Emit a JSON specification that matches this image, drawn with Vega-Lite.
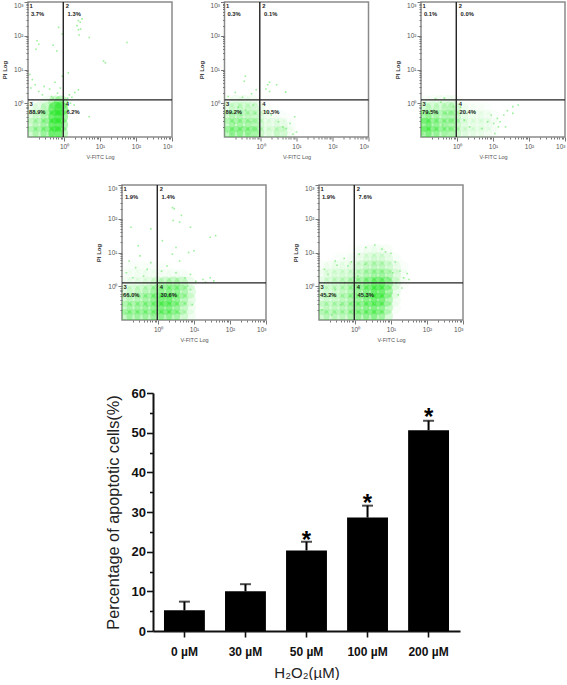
{"$schema":"https://vega.github.io/schema/vega-lite/v6.json","background":"white","padding":{"left":0,"top":0,"right":0,"bottom":0},"bounds":"full","spacing":10,"config":{"font":"Liberation Sans","view":{"stroke":"#8a8a8a","strokeWidth":1.5}},
"datasets":{
"labels":[
{"p":1,"x":-0.96,"y":2.87,"t":"1"},{"p":1,"x":0.05,"y":2.87,"t":"2"},{"p":1,"x":-0.96,"y":-0.02,"t":"3"},{"p":1,"x":0.05,"y":-0.02,"t":"4"},{"p":1,"x":-0.92,"y":2.64,"t":"3.7%"},{"p":1,"x":0.1,"y":2.64,"t":"1.3%"},{"p":1,"x":-0.97,"y":-0.26,"t":"88.9%"},{"p":1,"x":0.07,"y":-0.26,"t":"6.2%"},
{"p":2,"x":-0.96,"y":2.87,"t":"1"},{"p":2,"x":0.05,"y":2.87,"t":"2"},{"p":2,"x":-0.96,"y":-0.02,"t":"3"},{"p":2,"x":0.05,"y":-0.02,"t":"4"},{"p":2,"x":-0.92,"y":2.64,"t":"0.3%"},{"p":2,"x":0.1,"y":2.64,"t":"0.1%"},{"p":2,"x":-0.97,"y":-0.26,"t":"89.2%"},{"p":2,"x":0.07,"y":-0.26,"t":"10.5%"},
{"p":3,"x":-0.96,"y":2.87,"t":"1"},{"p":3,"x":0.05,"y":2.87,"t":"2"},{"p":3,"x":-0.96,"y":-0.02,"t":"3"},{"p":3,"x":0.05,"y":-0.02,"t":"4"},{"p":3,"x":-0.92,"y":2.64,"t":"0.1%"},{"p":3,"x":0.1,"y":2.64,"t":"0.0%"},{"p":3,"x":-0.97,"y":-0.26,"t":"79.5%"},{"p":3,"x":0.07,"y":-0.26,"t":"20.4%"},
{"p":4,"x":-0.96,"y":2.87,"t":"1"},{"p":4,"x":0.05,"y":2.87,"t":"2"},{"p":4,"x":-0.96,"y":-0.02,"t":"3"},{"p":4,"x":0.05,"y":-0.02,"t":"4"},{"p":4,"x":-0.92,"y":2.64,"t":"1.9%"},{"p":4,"x":0.1,"y":2.64,"t":"1.4%"},{"p":4,"x":-0.97,"y":-0.26,"t":"66.0%"},{"p":4,"x":0.07,"y":-0.26,"t":"30.6%"},
{"p":5,"x":-0.96,"y":2.87,"t":"1"},{"p":5,"x":0.05,"y":2.87,"t":"2"},{"p":5,"x":-0.96,"y":-0.02,"t":"3"},{"p":5,"x":0.05,"y":-0.02,"t":"4"},{"p":5,"x":-0.92,"y":2.64,"t":"1.9%"},{"p":5,"x":0.1,"y":2.64,"t":"7.6%"},{"p":5,"x":-0.97,"y":-0.26,"t":"45.2%"},{"p":5,"x":0.07,"y":-0.26,"t":"45.3%"}],
"gates":[{"gx":-0.02,"gy":0.1}],
"c1":[{"x":-0.9,"y":-0.88,"d":0.35},{"x":-0.68,"y":-0.88,"d":0.4},{"x":-0.46,"y":-0.88,"d":0.55},{"x":-0.24,"y":-0.88,"d":0.9},{"x":-0.08,"y":-0.88,"d":0.5},
{"x":-0.9,"y":-0.64,"d":0.3},{"x":-0.68,"y":-0.64,"d":0.35},{"x":-0.46,"y":-0.64,"d":0.5},{"x":-0.24,"y":-0.64,"d":0.95},{"x":-0.08,"y":-0.64,"d":0.6},
{"x":-0.9,"y":-0.4,"d":0.2},{"x":-0.68,"y":-0.4,"d":0.25},{"x":-0.46,"y":-0.4,"d":0.45},{"x":-0.24,"y":-0.4,"d":0.95},{"x":-0.08,"y":-0.4,"d":0.75},
{"x":-0.9,"y":-0.16,"d":0.1},{"x":-0.68,"y":-0.16,"d":0.2},{"x":-0.46,"y":-0.16,"d":0.35},{"x":-0.24,"y":-0.16,"d":0.9},{"x":-0.08,"y":-0.16,"d":0.85},
{"x":-0.46,"y":0.02,"d":0.1},{"x":-0.24,"y":0.02,"d":0.4},{"x":-0.08,"y":0.02,"d":0.5}],
"s1":[{"x":-0.95,"y":0.85},{"x":-0.88,"y":0.7},{"x":-0.8,"y":0.55},{"x":-0.92,"y":0.45},{"x":-0.7,"y":0.35},{"x":-0.55,"y":0.5},{"x":-0.6,"y":0.25},{"x":-0.4,"y":0.42},{"x":-0.35,"y":0.2},{"x":-0.25,"y":0.62},{"x":-0.18,"y":0.3},{"x":-0.1,"y":0.45},{"x":-0.3,"y":0.15},{"x":-0.05,"y":0.8},{"x":-0.75,"y":1.85},{"x":-0.7,"y":1.75},{"x":-0.78,"y":1.6},{"x":-0.3,"y":1.72},{"x":-0.2,"y":1.55},{"x":-0.15,"y":2.25},{"x":-0.05,"y":2.05},{"x":0.1,"y":0.15},{"x":0.15,"y":0.25},{"x":0.22,"y":0.18},{"x":0.3,"y":0.32},{"x":0.4,"y":0.4},{"x":0.1,"y":0.05},{"x":0.18,"y":0.0},{"x":0.28,"y":-0.05},{"x":0.12,"y":-0.2},{"x":0.7,"y":-0.4},{"x":0.12,"y":0.9},{"x":0.4,"y":2.45},{"x":0.36,"y":2.3},{"x":0.4,"y":2.18},{"x":0.45,"y":2.4},{"x":0.5,"y":2.5},{"x":0.42,"y":2.02},{"x":0.46,"y":2.2},{"x":0.7,"y":1.95},{"x":1.1,"y":1.25},{"x":1.15,"y":1.2},{"x":1.75,"y":1.8}],
"c2":[{"x":-0.9,"y":-0.88,"d":0.5},{"x":-0.68,"y":-0.88,"d":0.55},{"x":-0.46,"y":-0.88,"d":0.5},{"x":-0.24,"y":-0.88,"d":0.5},{"x":-0.08,"y":-0.88,"d":0.3},{"x":0.12,"y":-0.88,"d":0.12},{"x":0.34,"y":-0.88,"d":0.18},{"x":0.56,"y":-0.88,"d":0.3},{"x":0.78,"y":-0.88,"d":0.08},
{"x":-0.9,"y":-0.64,"d":0.4},{"x":-0.68,"y":-0.64,"d":0.4},{"x":-0.46,"y":-0.64,"d":0.4},{"x":-0.24,"y":-0.64,"d":0.35},{"x":-0.08,"y":-0.64,"d":0.25},{"x":0.12,"y":-0.64,"d":0.1},{"x":0.34,"y":-0.64,"d":0.12},{"x":0.56,"y":-0.64,"d":0.15},{"x":0.78,"y":-0.64,"d":0.06},
{"x":-0.9,"y":-0.4,"d":0.3},{"x":-0.68,"y":-0.4,"d":0.35},{"x":-0.46,"y":-0.4,"d":0.3},{"x":-0.24,"y":-0.4,"d":0.25},{"x":-0.08,"y":-0.4,"d":0.18},{"x":0.12,"y":-0.4,"d":0.08},{"x":0.34,"y":-0.4,"d":0.06},{"x":0.56,"y":-0.4,"d":0.04},
{"x":-0.9,"y":-0.16,"d":0.18},{"x":-0.68,"y":-0.16,"d":0.25},{"x":-0.46,"y":-0.16,"d":0.25},{"x":-0.24,"y":-0.16,"d":0.2},{"x":-0.08,"y":-0.16,"d":0.12},{"x":0.12,"y":-0.16,"d":0.05},
{"x":-0.9,"y":0.04,"d":0.05},{"x":-0.68,"y":0.04,"d":0.1},{"x":-0.46,"y":0.04,"d":0.1},{"x":-0.24,"y":0.04,"d":0.08}],
"s2":[{"x":-0.92,"y":-0.85},{"x":-0.8,"y":-0.9},{"x":-0.65,"y":-0.82},{"x":-0.5,"y":-0.7},{"x":-0.72,"y":-0.6},{"x":-0.35,"y":-0.9},{"x":-0.28,"y":-0.55},{"x":-0.55,"y":-0.35},{"x":-0.42,"y":-0.2},{"x":-0.15,"y":-0.3},{"x":-0.62,"y":-0.12},{"x":-0.85,"y":-0.3},{"x":-0.2,"y":-0.05},{"x":-0.9,"y":0.2},{"x":-0.7,"y":0.32},{"x":-0.5,"y":0.18},{"x":-0.45,"y":0.65},{"x":-0.42,"y":0.8},{"x":-0.25,"y":0.28},{"x":-0.12,"y":0.4},{"x":0.15,"y":0.42},{"x":0.2,"y":0.55},{"x":0.25,"y":0.35},{"x":0.25,"y":0.62},{"x":0.45,"y":0.55},{"x":0.7,"y":0.33},{"x":0.15,"y":-0.25},{"x":0.3,"y":-0.35},{"x":0.5,"y":-0.55},{"x":0.62,"y":-0.7},{"x":0.72,"y":-0.75},{"x":0.82,"y":-0.6},{"x":0.95,"y":-0.4},{"x":1.0,"y":-0.85},{"x":0.9,"y":-0.92}],
"c3":[{"x":-0.9,"y":-0.88,"d":0.7},{"x":-0.68,"y":-0.88,"d":0.55},{"x":-0.46,"y":-0.88,"d":0.45},{"x":-0.24,"y":-0.88,"d":0.4},{"x":-0.08,"y":-0.88,"d":0.3},{"x":0.12,"y":-0.88,"d":0.15},{"x":0.34,"y":-0.88,"d":0.12},{"x":0.56,"y":-0.88,"d":0.1},{"x":0.78,"y":-0.88,"d":0.08},{"x":1.0,"y":-0.88,"d":0.03},
{"x":-0.9,"y":-0.64,"d":0.75},{"x":-0.68,"y":-0.64,"d":0.55},{"x":-0.46,"y":-0.64,"d":0.45},{"x":-0.24,"y":-0.64,"d":0.4},{"x":-0.08,"y":-0.64,"d":0.3},{"x":0.12,"y":-0.64,"d":0.14},{"x":0.34,"y":-0.64,"d":0.1},{"x":0.56,"y":-0.64,"d":0.1},{"x":0.78,"y":-0.64,"d":0.1},{"x":1.0,"y":-0.64,"d":0.05},
{"x":-0.9,"y":-0.4,"d":0.6},{"x":-0.68,"y":-0.4,"d":0.4},{"x":-0.46,"y":-0.4,"d":0.35},{"x":-0.24,"y":-0.4,"d":0.35},{"x":-0.08,"y":-0.4,"d":0.3},{"x":0.12,"y":-0.4,"d":0.12},{"x":0.34,"y":-0.4,"d":0.08},{"x":0.56,"y":-0.4,"d":0.08},{"x":0.78,"y":-0.4,"d":0.08},{"x":1.0,"y":-0.4,"d":0.04},
{"x":-0.9,"y":-0.16,"d":0.3},{"x":-0.68,"y":-0.16,"d":0.25},{"x":-0.46,"y":-0.16,"d":0.25},{"x":-0.24,"y":-0.16,"d":0.3},{"x":-0.08,"y":-0.16,"d":0.25},{"x":0.12,"y":-0.16,"d":0.08},{"x":0.34,"y":-0.16,"d":0.05},{"x":0.56,"y":-0.16,"d":0.04},{"x":0.78,"y":-0.16,"d":0.03},
{"x":-0.9,"y":0.04,"d":0.04},{"x":-0.68,"y":0.04,"d":0.06},{"x":-0.46,"y":0.04,"d":0.08},{"x":-0.24,"y":0.04,"d":0.08},{"x":-0.08,"y":0.04,"d":0.05}],
"s3":[{"x":-0.95,"y":-0.9},{"x":-0.85,"y":-0.7},{"x":-0.75,"y":-0.55},{"x":-0.6,"y":-0.8},{"x":-0.55,"y":-0.45},{"x":-0.4,"y":-0.65},{"x":-0.3,"y":-0.3},{"x":-0.2,"y":-0.75},{"x":-0.1,"y":-0.1},{"x":-0.12,"y":-0.5},{"x":-0.65,"y":-0.2},{"x":-0.45,"y":0.03},{"x":-0.35,"y":0.15},{"x":-0.6,"y":0.13},{"x":0.1,"y":-0.12},{"x":0.2,"y":-0.5},{"x":0.35,"y":-0.7},{"x":0.5,"y":-0.25},{"x":0.7,"y":-0.75},{"x":0.85,"y":-0.55},{"x":0.95,"y":-0.35},{"x":1.02,"y":-0.6},{"x":1.12,"y":-0.45},{"x":1.15,"y":-0.7},{"x":1.05,"y":-0.9},{"x":1.2,"y":-0.55},{"x":1.3,"y":-0.35},{"x":1.4,"y":-0.22},{"x":1.55,"y":-0.1},{"x":1.7,"y":-0.05},{"x":1.55,"y":-0.3},{"x":1.35,"y":-0.7}],
"c4":[{"x":-0.9,"y":-0.88,"d":0.45},{"x":-0.68,"y":-0.88,"d":0.45},{"x":-0.46,"y":-0.88,"d":0.45},{"x":-0.24,"y":-0.88,"d":0.45},{"x":-0.02,"y":-0.88,"d":0.5},{"x":0.2,"y":-0.88,"d":0.55},{"x":0.42,"y":-0.88,"d":0.5},{"x":0.64,"y":-0.88,"d":0.3},{"x":0.86,"y":-0.88,"d":0.1},
{"x":-0.9,"y":-0.64,"d":0.4},{"x":-0.68,"y":-0.64,"d":0.4},{"x":-0.46,"y":-0.64,"d":0.45},{"x":-0.24,"y":-0.64,"d":0.45},{"x":-0.02,"y":-0.64,"d":0.55},{"x":0.2,"y":-0.64,"d":0.65},{"x":0.42,"y":-0.64,"d":0.55},{"x":0.64,"y":-0.64,"d":0.35},{"x":0.86,"y":-0.64,"d":0.12},
{"x":-0.9,"y":-0.4,"d":0.3},{"x":-0.68,"y":-0.4,"d":0.3},{"x":-0.46,"y":-0.4,"d":0.35},{"x":-0.24,"y":-0.4,"d":0.45},{"x":-0.02,"y":-0.4,"d":0.55},{"x":0.2,"y":-0.4,"d":0.75},{"x":0.42,"y":-0.4,"d":0.6},{"x":0.64,"y":-0.4,"d":0.4},{"x":0.86,"y":-0.4,"d":0.2},
{"x":-0.9,"y":-0.16,"d":0.2},{"x":-0.68,"y":-0.16,"d":0.25},{"x":-0.46,"y":-0.16,"d":0.3},{"x":-0.24,"y":-0.16,"d":0.35},{"x":-0.02,"y":-0.16,"d":0.5},{"x":0.2,"y":-0.16,"d":0.55},{"x":0.42,"y":-0.16,"d":0.55},{"x":0.64,"y":-0.16,"d":0.45},{"x":0.86,"y":-0.16,"d":0.25},
{"x":-0.9,"y":0.08,"d":0.06},{"x":-0.68,"y":0.08,"d":0.08},{"x":-0.46,"y":0.08,"d":0.1},{"x":-0.24,"y":0.08,"d":0.15},{"x":-0.02,"y":0.08,"d":0.25},{"x":0.2,"y":0.08,"d":0.35},{"x":0.42,"y":0.08,"d":0.4},{"x":0.64,"y":0.08,"d":0.35},{"x":0.86,"y":0.08,"d":0.12},
{"x":-0.9,"y":0.32,"d":0.04},{"x":-0.68,"y":0.32,"d":0.05},{"x":-0.46,"y":0.32,"d":0.06},{"x":-0.24,"y":0.32,"d":0.06},{"x":-0.02,"y":0.32,"d":0.05},{"x":0.2,"y":0.32,"d":0.05},{"x":0.42,"y":0.32,"d":0.06},{"x":0.64,"y":0.32,"d":0.06},{"x":0.86,"y":0.32,"d":0.02},
{"x":-0.9,"y":0.56,"d":0.02},{"x":-0.68,"y":0.56,"d":0.03},{"x":-0.46,"y":0.56,"d":0.03},{"x":-0.24,"y":0.56,"d":0.03},{"x":-0.02,"y":0.56,"d":0.02},{"x":0.2,"y":0.56,"d":0.02}],
"s4":[{"x":-0.9,"y":-0.8},{"x":-0.75,"y":-0.55},{"x":-0.6,"y":-0.75},{"x":-0.5,"y":-0.3},{"x":-0.3,"y":-0.6},{"x":-0.15,"y":-0.85},{"x":0.1,"y":-0.7},{"x":0.25,"y":-0.45},{"x":0.3,"y":-0.55},{"x":0.18,"y":-0.38},{"x":0.38,"y":-0.42},{"x":0.5,"y":-0.2},{"x":0.6,"y":-0.8},{"x":0.75,"y":-0.5},{"x":0.9,"y":-0.1},{"x":0.82,"y":0.0},{"x":0.95,"y":-0.55},{"x":-0.88,"y":0.4},{"x":-0.8,"y":0.75},{"x":-0.7,"y":0.25},{"x":-0.62,"y":0.55},{"x":-0.5,"y":0.9},{"x":-0.4,"y":0.3},{"x":-0.3,"y":0.5},{"x":-0.75,"y":1.75},{"x":-0.55,"y":1.2},{"x":-0.2,"y":0.7},{"x":-0.2,"y":1.7},{"x":0.1,"y":0.45},{"x":0.25,"y":0.6},{"x":0.4,"y":0.95},{"x":0.5,"y":0.4},{"x":0.6,"y":0.75},{"x":0.75,"y":0.25},{"x":0.9,"y":0.35},{"x":1.05,"y":0.15},{"x":1.25,"y":0.2},{"x":1.32,"y":0.12},{"x":1.45,"y":0.25},{"x":1.55,"y":0.16},{"x":0.85,"y":1.0},{"x":1.0,"y":1.05},{"x":0.5,"y":1.15},{"x":0.12,"y":1.35},{"x":0.45,"y":2.3},{"x":0.4,"y":2.33},{"x":0.65,"y":2.1},{"x":0.42,"y":1.95},{"x":0.6,"y":1.9},{"x":1.45,"y":1.45},{"x":1.6,"y":1.5},{"x":0.9,"y":1.75}],
"c5":[{"x":-0.9,"y":-0.88,"d":0.35},{"x":-0.68,"y":-0.88,"d":0.3},{"x":-0.46,"y":-0.88,"d":0.3},{"x":-0.24,"y":-0.88,"d":0.3},{"x":-0.02,"y":-0.88,"d":0.45},{"x":0.2,"y":-0.88,"d":0.5},{"x":0.42,"y":-0.88,"d":0.55},{"x":0.64,"y":-0.88,"d":0.55},{"x":0.86,"y":-0.88,"d":0.3},
{"x":-0.9,"y":-0.64,"d":0.3},{"x":-0.68,"y":-0.64,"d":0.25},{"x":-0.46,"y":-0.64,"d":0.3},{"x":-0.24,"y":-0.64,"d":0.3},{"x":-0.02,"y":-0.64,"d":0.45},{"x":0.2,"y":-0.64,"d":0.5},{"x":0.42,"y":-0.64,"d":0.6},{"x":0.64,"y":-0.64,"d":0.6},{"x":0.86,"y":-0.64,"d":0.4},{"x":1.08,"y":-0.64,"d":0.05},
{"x":-0.9,"y":-0.4,"d":0.22},{"x":-0.68,"y":-0.4,"d":0.2},{"x":-0.46,"y":-0.4,"d":0.25},{"x":-0.24,"y":-0.4,"d":0.3},{"x":-0.02,"y":-0.4,"d":0.4},{"x":0.2,"y":-0.4,"d":0.5},{"x":0.42,"y":-0.4,"d":0.65},{"x":0.64,"y":-0.4,"d":0.75},{"x":0.86,"y":-0.4,"d":0.5},{"x":1.08,"y":-0.4,"d":0.1},
{"x":-0.9,"y":-0.16,"d":0.2},{"x":-0.68,"y":-0.16,"d":0.2},{"x":-0.46,"y":-0.16,"d":0.22},{"x":-0.24,"y":-0.16,"d":0.3},{"x":-0.02,"y":-0.16,"d":0.4},{"x":0.2,"y":-0.16,"d":0.5},{"x":0.42,"y":-0.16,"d":0.7},{"x":0.64,"y":-0.16,"d":0.85},{"x":0.86,"y":-0.16,"d":0.6},{"x":1.08,"y":-0.16,"d":0.15},
{"x":-0.9,"y":0.08,"d":0.12},{"x":-0.68,"y":0.08,"d":0.18},{"x":-0.46,"y":0.08,"d":0.2},{"x":-0.24,"y":0.08,"d":0.25},{"x":-0.02,"y":0.08,"d":0.35},{"x":0.2,"y":0.08,"d":0.45},{"x":0.42,"y":0.08,"d":0.6},{"x":0.64,"y":0.08,"d":0.75},{"x":0.86,"y":0.08,"d":0.6},{"x":1.08,"y":0.08,"d":0.2},{"x":1.3,"y":0.08,"d":0.05},
{"x":-0.9,"y":0.32,"d":0.08},{"x":-0.68,"y":0.32,"d":0.15},{"x":-0.46,"y":0.32,"d":0.18},{"x":-0.24,"y":0.32,"d":0.18},{"x":-0.02,"y":0.32,"d":0.2},{"x":0.2,"y":0.32,"d":0.3},{"x":0.42,"y":0.32,"d":0.4},{"x":0.64,"y":0.32,"d":0.45},{"x":0.86,"y":0.32,"d":0.4},{"x":1.08,"y":0.32,"d":0.2},{"x":1.3,"y":0.32,"d":0.06},
{"x":-0.9,"y":0.56,"d":0.05},{"x":-0.68,"y":0.56,"d":0.08},{"x":-0.46,"y":0.56,"d":0.1},{"x":-0.24,"y":0.56,"d":0.1},{"x":-0.02,"y":0.56,"d":0.12},{"x":0.2,"y":0.56,"d":0.22},{"x":0.42,"y":0.56,"d":0.28},{"x":0.64,"y":0.56,"d":0.3},{"x":0.86,"y":0.56,"d":0.25},{"x":1.08,"y":0.56,"d":0.12},{"x":1.3,"y":0.56,"d":0.04},
{"x":-0.46,"y":0.8,"d":0.03},{"x":-0.24,"y":0.8,"d":0.03},{"x":-0.02,"y":0.8,"d":0.05},{"x":0.2,"y":0.8,"d":0.12},{"x":0.42,"y":0.8,"d":0.18},{"x":0.64,"y":0.8,"d":0.2},{"x":0.86,"y":0.8,"d":0.15},{"x":1.08,"y":0.8,"d":0.06},
{"x":-0.02,"y":1.04,"d":0.02},{"x":0.2,"y":1.04,"d":0.04},{"x":0.42,"y":1.04,"d":0.08},{"x":0.64,"y":1.04,"d":0.08},{"x":0.86,"y":1.04,"d":0.05}],
"s5":[{"x":-0.92,"y":-0.7},{"x":-0.8,"y":-0.3},{"x":-0.65,"y":-0.85},{"x":-0.55,"y":-0.1},{"x":-0.4,"y":-0.55},{"x":-0.28,"y":0.1},{"x":-0.15,"y":-0.3},{"x":0.08,"y":0.3},{"x":0.15,"y":-0.8},{"x":0.28,"y":0.65},{"x":0.35,"y":-0.2},{"x":0.48,"y":0.1},{"x":0.55,"y":-0.5},{"x":0.62,"y":0.0},{"x":0.7,"y":-0.25},{"x":0.72,"y":0.15},{"x":0.78,"y":-0.1},{"x":0.58,"y":-0.15},{"x":0.66,"y":0.05},{"x":0.82,"y":-0.4},{"x":0.9,"y":0.25},{"x":1.0,"y":-0.2},{"x":1.05,"y":0.4},{"x":1.15,"y":0.1},{"x":1.2,"y":-0.25},{"x":1.25,"y":0.45},{"x":1.35,"y":0.25},{"x":1.45,"y":0.38},{"x":1.5,"y":0.2},{"x":1.3,"y":-0.05},{"x":1.12,"y":0.72},{"x":1.0,"y":0.98},{"x":0.75,"y":1.1},{"x":0.55,"y":1.22},{"x":0.3,"y":1.15},{"x":0.12,"y":0.95},{"x":0.85,"y":1.02},{"x":-0.1,"y":0.72},{"x":-0.3,"y":0.82},{"x":-0.55,"y":0.75},{"x":-0.85,"y":0.5},{"x":-0.75,"y":0.35},{"x":-0.2,"y":0.6},{"x":-0.5,"y":0.62}],
"bars":[{"dose":"0 µM","pct":5.2,"top":7.4},{"dose":"30 µM","pct":10,"top":11.8},{"dose":"50 µM","pct":20.3,"top":22.5},{"dose":"100 µM","pct":28.6,"top":31.6},{"dose":"200 µM","pct":50.6,"top":53}],
"stars":[{"dose":"50 µM","pos":23.6},{"dose":"100 µM","pos":32.9},{"dose":"200 µM","pos":54.6}]
},
"vconcat":[
{"hconcat":[
{"width":144,"height":135,"resolve":{"axis":{"x":"independent","y":"independent"}},"layer":[
{"data":{"name":"c1"},"mark":{"type":"circle","size":200,"strokeWidth":0,"clip":true,"color":"#1fe61f"},"encoding":{"x":{"field":"x","type":"quantitative","scale":{"domain":[-1,3],"nice":false},"title":"V-FITC Log","axis":{"grid":false,"domain":false,"values":[0,1,2,3],"labelExpr":"datum.value===0?'10⁰':datum.value===1?'10¹':datum.value===2?'10²':'10³'","labelFontSize":6.5,"labelColor":"#555","labelPadding":2,"labelOverlap":false,"labelFlush":true,"tickColor":"#777","tickSize":4,"titleFontSize":5.5,"titleColor":"#555","titlePadding":5,"titleFontWeight":"normal"}},"y":{"field":"y","type":"quantitative","scale":{"domain":[-1,3],"nice":false},"title":"PI Log","axis":{"grid":false,"domain":false,"values":[0,1,2,3],"labelExpr":"datum.value===0?'10⁰':datum.value===1?'10¹':datum.value===2?'10²':'10³'","labelFontSize":6.5,"labelColor":"#555","labelPadding":1,"labelOverlap":false,"labelFlush":true,"tickColor":"#777","tickSize":4,"titleFontSize":6,"titleColor":"#333","titlePadding":6,"titleFontWeight":"bold"}},"opacity":{"field":"d","type":"quantitative","legend":null,"scale":{"domain":[0,1],"range":[0,0.55]}}}},
{"data":{"name":"s1"},"mark":{"type":"square","size":2.5,"strokeWidth":0,"clip":true,"color":"#6fea6f"},"encoding":{"x":{"field":"x","type":"quantitative","axis":{"orient":"bottom","title":null,"labels":false,"domain":false,"grid":false,"tickColor":"#777","tickSize":2,"values":[-0.699,-0.523,-0.398,-0.301,-0.222,-0.155,-0.097,-0.046,0.301,0.477,0.602,0.699,0.778,0.845,0.903,0.954,1.301,1.477,1.602,1.699,1.778,1.845,1.903,1.954,2.301,2.477,2.602,2.699,2.778,2.845,2.903,2.954]}},"y":{"field":"y","type":"quantitative","axis":{"orient":"left","title":null,"labels":false,"domain":false,"grid":false,"tickColor":"#777","tickSize":2,"values":[-0.699,-0.523,-0.398,-0.301,-0.222,-0.155,-0.097,-0.046,0.301,0.477,0.602,0.699,0.778,0.845,0.903,0.954,1.301,1.477,1.602,1.699,1.778,1.845,1.903,1.954,2.301,2.477,2.602,2.699,2.778,2.845,2.903,2.954]}}}},
{"data":{"name":"gates"},"mark":{"type":"rule","color":"#222","strokeWidth":1.4},"encoding":{"x":{"field":"gx","type":"quantitative","axis":null}}},
{"data":{"name":"gates"},"mark":{"type":"rule","color":"#222","strokeWidth":1.4},"encoding":{"y":{"field":"gy","type":"quantitative","axis":null}}},
{"data":{"name":"labels"},"transform":[{"filter":"datum.p===1"}],"mark":{"type":"text","align":"left","baseline":"middle","fontSize":5.8,"fontWeight":"bold","color":"#222"},"encoding":{"x":{"field":"x","type":"quantitative","axis":null},"y":{"field":"y","type":"quantitative","axis":null},"text":{"field":"t"}}}]},
{"width":144,"height":135,"resolve":{"axis":{"x":"independent","y":"independent"}},"layer":[
{"data":{"name":"c2"},"mark":{"type":"circle","size":200,"strokeWidth":0,"clip":true,"color":"#1fe61f"},"encoding":{"x":{"field":"x","type":"quantitative","scale":{"domain":[-1,3],"nice":false},"title":"V-FITC Log","axis":{"grid":false,"domain":false,"values":[0,1,2,3],"labelExpr":"datum.value===0?'10⁰':datum.value===1?'10¹':datum.value===2?'10²':'10³'","labelFontSize":6.5,"labelColor":"#555","labelPadding":2,"labelOverlap":false,"labelFlush":true,"tickColor":"#777","tickSize":4,"titleFontSize":5.5,"titleColor":"#555","titlePadding":5,"titleFontWeight":"normal"}},"y":{"field":"y","type":"quantitative","scale":{"domain":[-1,3],"nice":false},"title":"PI Log","axis":{"grid":false,"domain":false,"values":[0,1,2,3],"labelExpr":"datum.value===0?'10⁰':datum.value===1?'10¹':datum.value===2?'10²':'10³'","labelFontSize":6.5,"labelColor":"#555","labelPadding":1,"labelOverlap":false,"labelFlush":true,"tickColor":"#777","tickSize":4,"titleFontSize":6,"titleColor":"#333","titlePadding":6,"titleFontWeight":"bold"}},"opacity":{"field":"d","type":"quantitative","legend":null,"scale":{"domain":[0,1],"range":[0,0.55]}}}},
{"data":{"name":"s2"},"mark":{"type":"square","size":2.5,"strokeWidth":0,"clip":true,"color":"#6fea6f"},"encoding":{"x":{"field":"x","type":"quantitative","axis":{"orient":"bottom","title":null,"labels":false,"domain":false,"grid":false,"tickColor":"#777","tickSize":2,"values":[-0.699,-0.523,-0.398,-0.301,-0.222,-0.155,-0.097,-0.046,0.301,0.477,0.602,0.699,0.778,0.845,0.903,0.954,1.301,1.477,1.602,1.699,1.778,1.845,1.903,1.954,2.301,2.477,2.602,2.699,2.778,2.845,2.903,2.954]}},"y":{"field":"y","type":"quantitative","axis":{"orient":"left","title":null,"labels":false,"domain":false,"grid":false,"tickColor":"#777","tickSize":2,"values":[-0.699,-0.523,-0.398,-0.301,-0.222,-0.155,-0.097,-0.046,0.301,0.477,0.602,0.699,0.778,0.845,0.903,0.954,1.301,1.477,1.602,1.699,1.778,1.845,1.903,1.954,2.301,2.477,2.602,2.699,2.778,2.845,2.903,2.954]}}}},
{"data":{"name":"gates"},"mark":{"type":"rule","color":"#222","strokeWidth":1.4},"encoding":{"x":{"field":"gx","type":"quantitative","axis":null}}},
{"data":{"name":"gates"},"mark":{"type":"rule","color":"#222","strokeWidth":1.4},"encoding":{"y":{"field":"gy","type":"quantitative","axis":null}}},
{"data":{"name":"labels"},"transform":[{"filter":"datum.p===2"}],"mark":{"type":"text","align":"left","baseline":"middle","fontSize":5.8,"fontWeight":"bold","color":"#222"},"encoding":{"x":{"field":"x","type":"quantitative","axis":null},"y":{"field":"y","type":"quantitative","axis":null},"text":{"field":"t"}}}]},
{"width":144,"height":135,"resolve":{"axis":{"x":"independent","y":"independent"}},"layer":[
{"data":{"name":"c3"},"mark":{"type":"circle","size":200,"strokeWidth":0,"clip":true,"color":"#1fe61f"},"encoding":{"x":{"field":"x","type":"quantitative","scale":{"domain":[-1,3],"nice":false},"title":"V-FITC Log","axis":{"grid":false,"domain":false,"values":[0,1,2,3],"labelExpr":"datum.value===0?'10⁰':datum.value===1?'10¹':datum.value===2?'10²':'10³'","labelFontSize":6.5,"labelColor":"#555","labelPadding":2,"labelOverlap":false,"labelFlush":true,"tickColor":"#777","tickSize":4,"titleFontSize":5.5,"titleColor":"#555","titlePadding":5,"titleFontWeight":"normal"}},"y":{"field":"y","type":"quantitative","scale":{"domain":[-1,3],"nice":false},"title":"PI Log","axis":{"grid":false,"domain":false,"values":[0,1,2,3],"labelExpr":"datum.value===0?'10⁰':datum.value===1?'10¹':datum.value===2?'10²':'10³'","labelFontSize":6.5,"labelColor":"#555","labelPadding":1,"labelOverlap":false,"labelFlush":true,"tickColor":"#777","tickSize":4,"titleFontSize":6,"titleColor":"#333","titlePadding":6,"titleFontWeight":"bold"}},"opacity":{"field":"d","type":"quantitative","legend":null,"scale":{"domain":[0,1],"range":[0,0.55]}}}},
{"data":{"name":"s3"},"mark":{"type":"square","size":2.5,"strokeWidth":0,"clip":true,"color":"#6fea6f"},"encoding":{"x":{"field":"x","type":"quantitative","axis":{"orient":"bottom","title":null,"labels":false,"domain":false,"grid":false,"tickColor":"#777","tickSize":2,"values":[-0.699,-0.523,-0.398,-0.301,-0.222,-0.155,-0.097,-0.046,0.301,0.477,0.602,0.699,0.778,0.845,0.903,0.954,1.301,1.477,1.602,1.699,1.778,1.845,1.903,1.954,2.301,2.477,2.602,2.699,2.778,2.845,2.903,2.954]}},"y":{"field":"y","type":"quantitative","axis":{"orient":"left","title":null,"labels":false,"domain":false,"grid":false,"tickColor":"#777","tickSize":2,"values":[-0.699,-0.523,-0.398,-0.301,-0.222,-0.155,-0.097,-0.046,0.301,0.477,0.602,0.699,0.778,0.845,0.903,0.954,1.301,1.477,1.602,1.699,1.778,1.845,1.903,1.954,2.301,2.477,2.602,2.699,2.778,2.845,2.903,2.954]}}}},
{"data":{"name":"gates"},"mark":{"type":"rule","color":"#222","strokeWidth":1.4},"encoding":{"x":{"field":"gx","type":"quantitative","axis":null}}},
{"data":{"name":"gates"},"mark":{"type":"rule","color":"#222","strokeWidth":1.4},"encoding":{"y":{"field":"gy","type":"quantitative","axis":null}}},
{"data":{"name":"labels"},"transform":[{"filter":"datum.p===3"}],"mark":{"type":"text","align":"left","baseline":"middle","fontSize":5.8,"fontWeight":"bold","color":"#222"},"encoding":{"x":{"field":"x","type":"quantitative","axis":null},"y":{"field":"y","type":"quantitative","axis":null},"text":{"field":"t"}}}]}
],"spacing":52.5,"bounds":"flush"},
{"width":1,"height":2,"view":{"stroke":null},"data":{"values":[]},"mark":"point"},
{"hconcat":[
{"width":41,"height":135,"view":{"stroke":null},"data":{"values":[]},"mark":"point"},
{"width":144,"height":135,"resolve":{"axis":{"x":"independent","y":"independent"}},"layer":[
{"data":{"name":"c4"},"mark":{"type":"circle","size":200,"strokeWidth":0,"clip":true,"color":"#1fe61f"},"encoding":{"x":{"field":"x","type":"quantitative","scale":{"domain":[-1,3],"nice":false},"title":"V-FITC Log","axis":{"grid":false,"domain":false,"values":[0,1,2,3],"labelExpr":"datum.value===0?'10⁰':datum.value===1?'10¹':datum.value===2?'10²':'10³'","labelFontSize":6.5,"labelColor":"#555","labelPadding":2,"labelOverlap":false,"labelFlush":true,"tickColor":"#777","tickSize":4,"titleFontSize":5.5,"titleColor":"#555","titlePadding":5,"titleFontWeight":"normal"}},"y":{"field":"y","type":"quantitative","scale":{"domain":[-1,3],"nice":false},"title":"PI Log","axis":{"grid":false,"domain":false,"values":[0,1,2,3],"labelExpr":"datum.value===0?'10⁰':datum.value===1?'10¹':datum.value===2?'10²':'10³'","labelFontSize":6.5,"labelColor":"#555","labelPadding":1,"labelOverlap":false,"labelFlush":true,"tickColor":"#777","tickSize":4,"titleFontSize":6,"titleColor":"#333","titlePadding":6,"titleFontWeight":"bold"}},"opacity":{"field":"d","type":"quantitative","legend":null,"scale":{"domain":[0,1],"range":[0,0.55]}}}},
{"data":{"name":"s4"},"mark":{"type":"square","size":2.5,"strokeWidth":0,"clip":true,"color":"#6fea6f"},"encoding":{"x":{"field":"x","type":"quantitative","axis":{"orient":"bottom","title":null,"labels":false,"domain":false,"grid":false,"tickColor":"#777","tickSize":2,"values":[-0.699,-0.523,-0.398,-0.301,-0.222,-0.155,-0.097,-0.046,0.301,0.477,0.602,0.699,0.778,0.845,0.903,0.954,1.301,1.477,1.602,1.699,1.778,1.845,1.903,1.954,2.301,2.477,2.602,2.699,2.778,2.845,2.903,2.954]}},"y":{"field":"y","type":"quantitative","axis":{"orient":"left","title":null,"labels":false,"domain":false,"grid":false,"tickColor":"#777","tickSize":2,"values":[-0.699,-0.523,-0.398,-0.301,-0.222,-0.155,-0.097,-0.046,0.301,0.477,0.602,0.699,0.778,0.845,0.903,0.954,1.301,1.477,1.602,1.699,1.778,1.845,1.903,1.954,2.301,2.477,2.602,2.699,2.778,2.845,2.903,2.954]}}}},
{"data":{"name":"gates"},"mark":{"type":"rule","color":"#222","strokeWidth":1.4},"encoding":{"x":{"field":"gx","type":"quantitative","axis":null}}},
{"data":{"name":"gates"},"mark":{"type":"rule","color":"#222","strokeWidth":1.4},"encoding":{"y":{"field":"gy","type":"quantitative","axis":null}}},
{"data":{"name":"labels"},"transform":[{"filter":"datum.p===4"}],"mark":{"type":"text","align":"left","baseline":"middle","fontSize":5.8,"fontWeight":"bold","color":"#222"},"encoding":{"x":{"field":"x","type":"quantitative","axis":null},"y":{"field":"y","type":"quantitative","axis":null},"text":{"field":"t"}}}]},
{"width":144,"height":135,"resolve":{"axis":{"x":"independent","y":"independent"}},"layer":[
{"data":{"name":"c5"},"mark":{"type":"circle","size":200,"strokeWidth":0,"clip":true,"color":"#1fe61f"},"encoding":{"x":{"field":"x","type":"quantitative","scale":{"domain":[-1,3],"nice":false},"title":"V-FITC Log","axis":{"grid":false,"domain":false,"values":[0,1,2,3],"labelExpr":"datum.value===0?'10⁰':datum.value===1?'10¹':datum.value===2?'10²':'10³'","labelFontSize":6.5,"labelColor":"#555","labelPadding":2,"labelOverlap":false,"labelFlush":true,"tickColor":"#777","tickSize":4,"titleFontSize":5.5,"titleColor":"#555","titlePadding":5,"titleFontWeight":"normal"}},"y":{"field":"y","type":"quantitative","scale":{"domain":[-1,3],"nice":false},"title":"PI Log","axis":{"grid":false,"domain":false,"values":[0,1,2,3],"labelExpr":"datum.value===0?'10⁰':datum.value===1?'10¹':datum.value===2?'10²':'10³'","labelFontSize":6.5,"labelColor":"#555","labelPadding":1,"labelOverlap":false,"labelFlush":true,"tickColor":"#777","tickSize":4,"titleFontSize":6,"titleColor":"#333","titlePadding":6,"titleFontWeight":"bold"}},"opacity":{"field":"d","type":"quantitative","legend":null,"scale":{"domain":[0,1],"range":[0,0.55]}}}},
{"data":{"name":"s5"},"mark":{"type":"square","size":2.5,"strokeWidth":0,"clip":true,"color":"#6fea6f"},"encoding":{"x":{"field":"x","type":"quantitative","axis":{"orient":"bottom","title":null,"labels":false,"domain":false,"grid":false,"tickColor":"#777","tickSize":2,"values":[-0.699,-0.523,-0.398,-0.301,-0.222,-0.155,-0.097,-0.046,0.301,0.477,0.602,0.699,0.778,0.845,0.903,0.954,1.301,1.477,1.602,1.699,1.778,1.845,1.903,1.954,2.301,2.477,2.602,2.699,2.778,2.845,2.903,2.954]}},"y":{"field":"y","type":"quantitative","axis":{"orient":"left","title":null,"labels":false,"domain":false,"grid":false,"tickColor":"#777","tickSize":2,"values":[-0.699,-0.523,-0.398,-0.301,-0.222,-0.155,-0.097,-0.046,0.301,0.477,0.602,0.699,0.778,0.845,0.903,0.954,1.301,1.477,1.602,1.699,1.778,1.845,1.903,1.954,2.301,2.477,2.602,2.699,2.778,2.845,2.903,2.954]}}}},
{"data":{"name":"gates"},"mark":{"type":"rule","color":"#222","strokeWidth":1.4},"encoding":{"x":{"field":"gx","type":"quantitative","axis":null}}},
{"data":{"name":"gates"},"mark":{"type":"rule","color":"#222","strokeWidth":1.4},"encoding":{"y":{"field":"gy","type":"quantitative","axis":null}}},
{"data":{"name":"labels"},"transform":[{"filter":"datum.p===5"}],"mark":{"type":"text","align":"left","baseline":"middle","fontSize":5.8,"fontWeight":"bold","color":"#222"},"encoding":{"x":{"field":"x","type":"quantitative","axis":null},"y":{"field":"y","type":"quantitative","axis":null},"text":{"field":"t"}}}]}
],"spacing":53,"bounds":"flush"},
{"width":1,"height":23,"view":{"stroke":null},"data":{"values":[]},"mark":"point"},
{"hconcat":[
{"width":72,"height":238,"view":{"stroke":null},"data":{"values":[]},"mark":"point"},
{"width":307,"height":238,"view":{"stroke":null},"resolve":{"axis":{"y":"independent"}},"encoding":{"x":{"field":"dose","type":"nominal","sort":null,"scale":{"paddingInner":0.33,"paddingOuter":0.18},"title":"H₂O₂(µM)","axis":{"labelAngle":0,"grid":false,"domainWidth":2,"domainColor":"#111","tickColor":"#111","tickWidth":1.6,"tickSize":6,"labelFontSize":12,"labelFontWeight":"bold","labelColor":"#111","labelPadding":9,"titleFontSize":15,"titleFontWeight":"normal","titleColor":"#222","titlePadding":8}}},
"layer":[
{"data":{"name":"bars"},"mark":{"type":"bar","color":"#000"},"encoding":{"y":{"field":"pct","type":"quantitative","scale":{"domain":[0,60],"nice":false},"title":"Percentage of apoptotic cells(%)","axis":{"grid":false,"values":[0,10,20,30,40,50,60],"labelOverlap":false,"labelFlush":false,"domainWidth":2,"domainColor":"#111","tickColor":"#111","tickWidth":1.6,"tickSize":6.5,"labelFontSize":13,"labelFontWeight":"bold","labelColor":"#111","labelPadding":1,"titleFontSize":16.3,"titleFontWeight":"normal","titleColor":"#222","titlePadding":10}}}},
{"data":{"name":"bars"},"mark":{"type":"rule","color":"#000","strokeWidth":2},"encoding":{"y":{"field":"pct","type":"quantitative","axis":{"orient":"left","title":null,"labels":false,"domain":false,"grid":false,"tickColor":"#111","tickWidth":1.6,"tickSize":3.5,"values":[5,15,25,35,45,55]}},"y2":{"field":"top"}}},
{"data":{"name":"bars"},"mark":{"type":"tick","color":"#000","size":11,"thickness":2},"encoding":{"y":{"field":"top","type":"quantitative","axis":null}}},
{"data":{"name":"stars"},"mark":{"type":"text","fontSize":24,"fontWeight":"bold","baseline":"middle","color":"#000","dy":4},"encoding":{"y":{"field":"pos","type":"quantitative","axis":null},"text":{"value":"*"}}}
]}
],"spacing":53,"bounds":"flush"}
]}
